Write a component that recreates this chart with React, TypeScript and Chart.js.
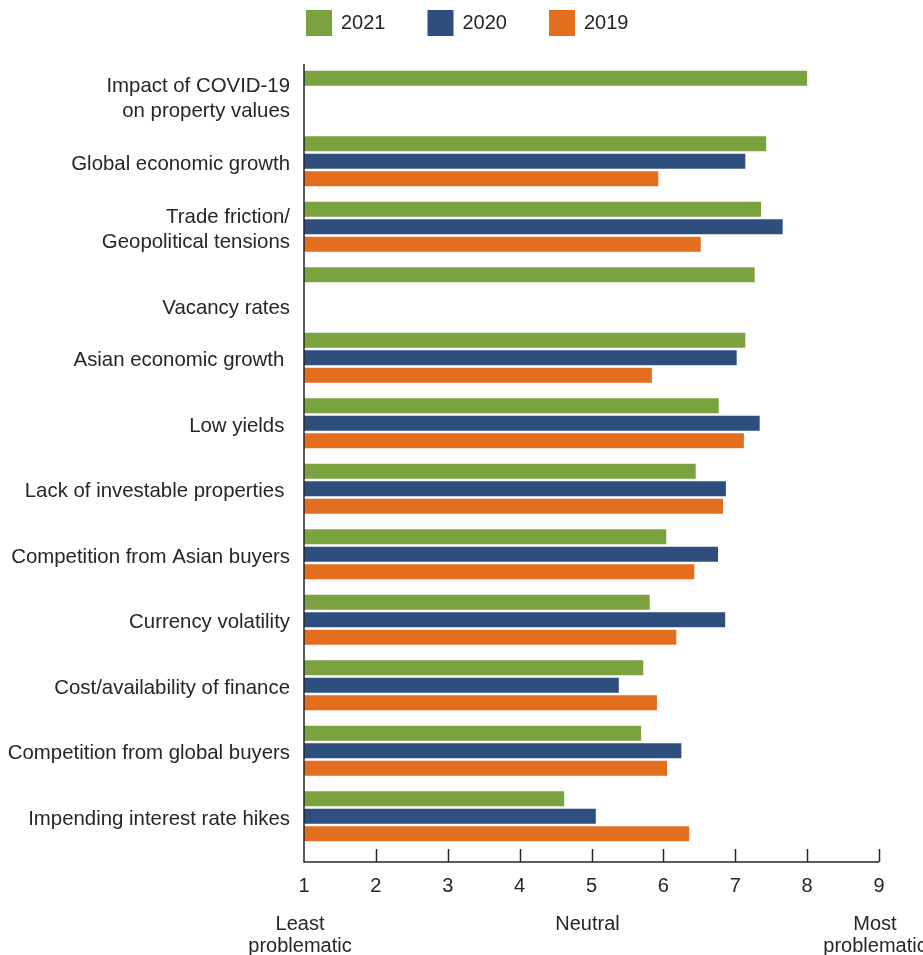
import { useEffect, useRef } from "react";
import { Chart, registerables } from "chart.js";

Chart.register(...registerables);

const categories: (string | string[])[] = [
  ["Impact of COVID-19", "on property values"],
  "Global economic growth",
  ["Trade friction/", "Geopolitical tensions"],
  ["", "Vacancy rates"],
  "Asian economic growth ",
  "Low yields ",
  "Lack of investable properties ",
  "Competition from Asian buyers",
  "Currency volatility",
  "Cost/availability of finance",
  "Competition from global buyers",
  "Impending interest rate hikes",
];

const values2021 = [8.0, 7.43, 7.36, 7.27, 7.14, 6.77, 6.45, 6.04, 5.81, 5.72, 5.69, 4.62];
const values2020 = [null, 7.14, 7.66, null, 7.02, 7.34, 6.87, 6.76, 6.86, 5.38, 6.25, 5.06];
const values2019 = [null, 5.93, 6.52, null, 5.84, 7.12, 6.83, 6.43, 6.18, 5.91, 6.05, 6.36];

const seriesLabels = ["2021", "2020", "2019"];
const seriesColors = ["#7AA33F", "#2E4E7E", "#E46E1F"];

const xMin = 1;
const xMax = 9;

const scaleNotes = [
  { value: 1, lines: ["Least", "problematic"] },
  { value: 5, lines: ["Neutral"] },
  { value: 9, lines: ["Most", "problematic"] },
];

const FONT = "'Liberation Sans', Arial, Helvetica, sans-serif";
const INK = "#262626";

// Axis frame: left spine, bottom spine set slightly below the bars, inward tick marks
const axisFrame = {
  id: "axisFrame",
  afterDraw(chart: any) {
    const { ctx, chartArea, scales } = chart;
    const x = scales.x;
    const baseY = chartArea.bottom + 13;
    ctx.save();
    ctx.strokeStyle = INK;
    ctx.lineWidth = 1.5;
    ctx.beginPath();
    ctx.moveTo(chartArea.left, chartArea.top + 1);
    ctx.lineTo(chartArea.left, baseY);
    ctx.lineTo(x.getPixelForValue(xMax), baseY);
    ctx.stroke();
    for (let v = xMin + 1; v <= xMax; v++) {
      const px = Math.round(x.getPixelForValue(v)) + 0.5;
      ctx.beginPath();
      ctx.moveTo(px, baseY);
      ctx.lineTo(px, baseY - 13);
      ctx.stroke();
    }
    // Scale meaning notes under the tick labels
    ctx.fillStyle = INK;
    ctx.font = `20px ${FONT}`;
    ctx.textAlign = "center";
    ctx.textBaseline = "middle";
    scaleNotes.forEach((n) => {
      const px = x.getPixelForValue(n.value) - 4;
      n.lines.forEach((line, i) => {
        ctx.fillText(line, px, 924 + i * 22);
      });
    });
    ctx.restore();
  },
};

// Legend row at the top
const topLegend = {
  id: "topLegend",
  afterDraw(chart: any) {
    const { ctx } = chart;
    ctx.save();
    ctx.font = `20px ${FONT}`;
    ctx.textBaseline = "middle";
    ctx.textAlign = "left";
    let x = 306;
    chart.data.datasets.forEach((ds: any) => {
      ctx.fillStyle = ds.backgroundColor;
      ctx.fillRect(x, 10, 26, 26);
      ctx.fillStyle = INK;
      ctx.fillText(ds.label, x + 35, 23);
      x += 26 + 9 + ctx.measureText(ds.label).width + 42;
    });
    ctx.restore();
  },
};

export default function App() {
  const canvasRef = useRef<HTMLCanvasElement | null>(null);

  useEffect(() => {
    if (!canvasRef.current) return;
    const series = [values2021, values2020, values2019];
    const chart = new Chart(canvasRef.current, {
      type: "bar",
      data: {
        labels: categories,
        datasets: series.map((data, i) => ({
          label: seriesLabels[i],
          data,
          backgroundColor: seriesColors[i],
          borderWidth: 0,
          categoryPercentage: 0.8,
          barPercentage: 0.86,
          base: xMin,
        })),
      },
      options: {
        indexAxis: "y",
        responsive: false,
        animation: false,
        layout: { padding: { top: 63, right: 44, bottom: 56, left: 0 } },
        plugins: {
          legend: { display: false },
          tooltip: { enabled: false },
        },
        scales: {
          x: {
            min: xMin,
            max: xMax,
            grid: { display: false, drawTicks: false },
            border: { display: false },
            ticks: {
              stepSize: 1,
              padding: 25,
              color: INK,
              font: { family: FONT, size: 20 },
            },
            afterFit(scale: any) {
              scale.height = 50;
            },
          },
          y: {
            grid: { display: false, drawTicks: false },
            border: { display: false },
            ticks: {
              padding: 14,
              labelOffset: 3,
              color: INK,
              font: { family: FONT, size: 20.4, lineHeight: 1.25 },
            },
            afterFit(scale: any) {
              scale.width = 304;
            },
          },
        },
      },
      plugins: [axisFrame, topLegend],
    });
    return () => chart.destroy();
  }, []);

  return (
    <div style={{ position: "fixed", left: 0, top: 0, width: 923, height: 955, background: "#fff" }}>
      <canvas ref={canvasRef} width={923} height={955} />
    </div>
  );
}
